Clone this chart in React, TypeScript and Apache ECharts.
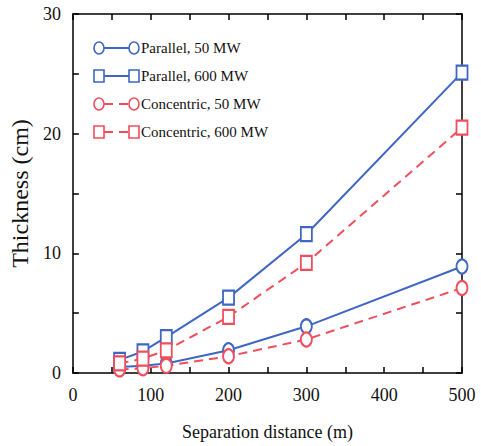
import React, { useEffect, useRef } from "react";
import * as echarts from "echarts";

const distances = [60, 90, 120, 200, 300, 500];
const parallel50 = [0.5, 0.6, 0.8, 1.9, 3.9, 8.9];
const parallel600 = [1.1, 1.8, 3.0, 6.3, 11.6, 25.1];
const concentric50 = [0.3, 0.4, 0.6, 1.4, 2.8, 7.1];
const concentric600 = [0.8, 1.2, 1.9, 4.7, 9.2, 20.5];

const seriesNames = ["Parallel, 50 MW", "Parallel, 600 MW", "Concentric, 50 MW", "Concentric, 600 MW"];
const seriesValues = [parallel50, parallel600, concentric50, concentric600];

const BLUE = "#3f66c4";
const RED = "#f04e5c";
const FONT = "Liberation Serif";

const styles = [
  { color: BLUE, symbol: "emptyCircle", dashed: false },
  { color: BLUE, symbol: "emptyRect", dashed: false },
  { color: RED, symbol: "emptyCircle", dashed: true },
  { color: RED, symbol: "emptyRect", dashed: true },
];

export default function App() {
  const ref = useRef<HTMLDivElement>(null);
  useEffect(() => {
    if (!ref.current) return;
    document.body.style.margin = "0";
    const chart = echarts.init(ref.current, undefined, { renderer: "svg" });

    const axisLine = { show: true, onZero: false, lineStyle: { color: "#000", width: 1.5 } };
    const axisTick = { show: true, inside: true, length: 6, lineStyle: { color: "#000", width: 1.5 } };

    const legendGraphics: any[] = [];
    const legendTitles: any[] = [];
    seriesNames.forEach((name, i) => {
      const st = styles[i];
      const y = 48 + i * 28;
      const x1 = 99;
      const x2 = 134;
      legendGraphics.push({
        type: "line",
        shape: { x1: x1 + 5, y1: y, x2: x2 - 5, y2: y },
        style: { stroke: st.color, lineWidth: 2, lineDash: st.dashed ? [9, 6] : null },
      });
      [x1, x2].forEach((cx) => {
        if (st.symbol === "emptyCircle") {
          legendGraphics.push({
            type: "ellipse",
            shape: { cx, cy: y, rx: 5, ry: 6 },
            style: { fill: "#fff", stroke: st.color, lineWidth: 1.6 },
          });
        } else {
          legendGraphics.push({
            type: "rect",
            shape: { x: cx - 5, y: y - 6, width: 10, height: 12 },
            style: { fill: "#fff", stroke: st.color, lineWidth: 1.6 },
          });
        }
      });
      legendTitles.push({
        text: name,
        left: 141,
        top: y - 9,
        padding: 0,
        textStyle: { color: "#111", fontFamily: FONT, fontSize: 15, fontWeight: "normal", lineHeight: 18 },
      });
    });

    chart.setOption({
      animation: false,
      backgroundColor: "#fff",
      textStyle: { fontFamily: FONT },
      title: legendTitles,
      grid: { left: 69, right: 19, top: 14, bottom: 73, containLabel: false },
      xAxis: [
        {
          type: "value",
          min: 0,
          max: 500,
          interval: 50,
          position: "bottom",
          axisLine,
          axisTick,
          splitLine: { show: false },
          axisLabel: {
            color: "#111",
            fontSize: 18,
            fontFamily: FONT,
            margin: 13,
            formatter: (v: number) => (v % 100 === 0 ? String(v) : ""),
          },
          name: "Separation distance (m)",
          nameLocation: "middle",
          nameGap: 50,
          nameTextStyle: { color: "#111", fontSize: 18, fontFamily: FONT },
        },
        {
          type: "value",
          min: 0,
          max: 500,
          interval: 50,
          position: "top",
          axisLine,
          axisTick,
          splitLine: { show: false },
          axisLabel: { show: false },
        },
      ],
      yAxis: [
        {
          type: "value",
          min: 0,
          max: 30,
          interval: 5,
          position: "left",
          axisLine,
          axisTick,
          splitLine: { show: false },
          axisLabel: {
            color: "#111",
            fontSize: 18,
            fontFamily: FONT,
            margin: 12,
            formatter: (v: number) => (v % 10 === 0 ? String(v) : ""),
          },
          name: "Thickness (cm)",
          nameLocation: "middle",
          nameGap: 31,
          nameTextStyle: { color: "#111", fontSize: 24, fontFamily: FONT },
        },
        {
          type: "value",
          min: 0,
          max: 30,
          interval: 5,
          position: "right",
          axisLine,
          axisTick,
          splitLine: { show: false },
          axisLabel: { show: false },
        },
      ],
      series: seriesNames.map((name, i) => ({
        name,
        type: "line",
        xAxisIndex: 0,
        yAxisIndex: 0,
        data: distances.map((d, j) => [d, seriesValues[i][j]]),
        symbol: styles[i].symbol,
        symbolSize: [11, 14],
        showAllSymbol: true,
        lineStyle: { color: styles[i].color, width: 2, type: styles[i].dashed ? [9, 6] : "solid" },
        itemStyle: { color: styles[i].color, borderColor: styles[i].color, borderWidth: 1.6 },
        z: 3,
      })),
      graphic: legendGraphics,
    });

    return () => chart.dispose();
  }, []);

  return <div ref={ref} style={{ width: 481, height: 446 }} />;
}
